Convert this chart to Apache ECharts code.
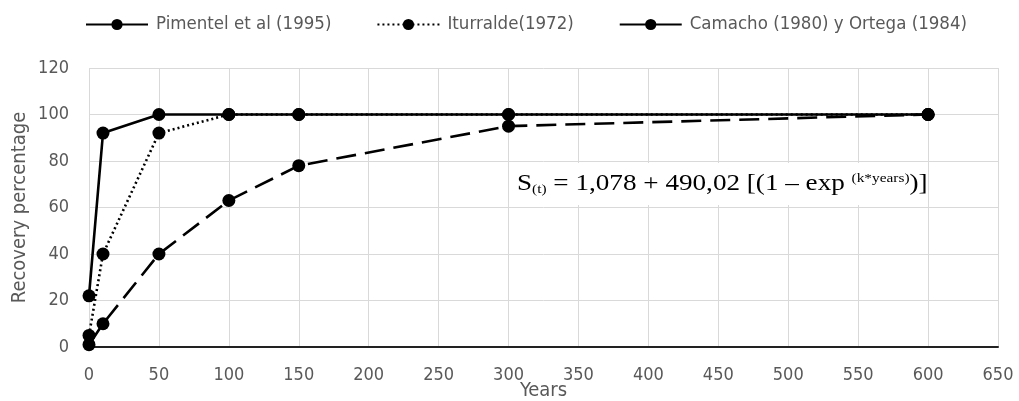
<!DOCTYPE html>
<html><head><meta charset="utf-8">
<script src="https://cdn.jsdelivr.net/npm/echarts@6/dist/echarts.min.js"></script>
<style>html,body{margin:0;padding:0;background:#fff}#c{width:1019px;height:401px}</style>
</head><body><div id="c"></div>
<script>
var seriesNames = ['Pimentel et al (1995)', 'Iturralde(1972)', 'Camacho (1980) y Ortega (1984)'];
var pimentelYears = [0, 10, 50, 100, 150, 300, 600];
var pimentelValues = [22, 92, 100, 100, 100, 100, 100];
var iturraldeYears = [0, 10, 50, 100, 150, 300, 600];
var iturraldeValues = [5, 40, 92, 100, 100, 100, 100];
var camachoYears = [0, 10, 50, 100, 150, 300, 600];
var camachoValues = [1, 10, 40, 63, 78, 95, 100];
var xTicks = [0, 650, 50];
var yTicks = [0, 120, 20];

function pairs(xs, ys) { return xs.map(function (x, i) { return [x, ys[i]]; }); }

var font = '"Liberation Sans Narrow", "DejaVu Sans Condensed", sans-serif';
var grey = '#595959';
var chart = echarts.init(document.getElementById('c'), null, { renderer: 'canvas' });
var mk = function (name, data, type) {
  return {
    name: name, type: 'line', data: data,
    symbol: 'circle', symbolSize: 13,
    itemStyle: { color: '#000' },
    lineStyle: { color: '#000', width: 2.6, type: type },
    emphasis: { disabled: true }, animation: false, z: 3
  };
};
chart.setOption({
  animation: false,
  grid: { left: 89, right: 21, top: 68, bottom: 54, outerBoundsMode: 'none', containLabel: false },
  legend: {
    top: 10, left: 80, itemWidth: 62, itemHeight: 14, itemGap: 45,
    textStyle: { fontFamily: font, fontSize: 18.5, color: grey, padding: [0, 0, 0, 3] },
    data: [
      { name: seriesNames[0] },
      { name: seriesNames[1] },
      { name: seriesNames[2], lineStyle: { type: 'solid' } }
    ]
  },
  xAxis: {
    type: 'value', min: xTicks[0], max: xTicks[1], interval: xTicks[2],
    name: 'Years', nameLocation: 'middle', nameGap: 34, nameMoveOverlap: false,
    nameTextStyle: { fontFamily: font, fontSize: 20, color: grey },
    axisLine: { show: true, lineStyle: { color: '#222', width: 2 } },
    axisTick: { show: false },
    axisLabel: { fontFamily: font, fontSize: 18, color: grey, margin: 19 },
    splitLine: { show: true, lineStyle: { color: '#d9d9d9', width: 1 } }
  },
  yAxis: {
    type: 'value', min: yTicks[0], max: yTicks[1], interval: yTicks[2],
    name: 'Recovery percentage', nameLocation: 'middle', nameGap: 59, nameMoveOverlap: false,
    nameTextStyle: { fontFamily: font, fontSize: 20, color: grey },
    axisLine: { show: false },
    axisTick: { show: false },
    axisLabel: { fontFamily: font, fontSize: 18, color: grey, margin: 20 },
    splitLine: { show: true, lineStyle: { color: '#d9d9d9', width: 1 } }
  },
  series: [
    mk(seriesNames[0], pairs(pimentelYears, pimentelValues), 'solid'),
    mk(seriesNames[1], pairs(iturraldeYears, iturraldeValues), [2, 3]),
    mk(seriesNames[2], pairs(camachoYears, camachoValues), [20, 9])
  ],
  graphic: [
    { type: 'rect', left: 511, top: 163, shape: { width: 415, height: 42 }, style: { fill: '#fff' }, z: 10 },
    {
      type: 'text', x: 517, y: 172, scaleX: 1.18, z: 11,
      style: {
        text: '{n|S}{sub|(t)}{n| = 1,078 + 490,02 [(1 \u2013 exp }{sup|(k*years)}{n|)]}',
        rich: {
          n: { fontFamily: '"Liberation Serif", serif', fontSize: 23, fill: '#000' },
          sub: { fontFamily: '"Liberation Serif", serif', fontSize: 13, fill: '#000', padding: [11, 0, 0, 0] },
          sup: { fontFamily: '"Liberation Serif", serif', fontSize: 13, fill: '#000', padding: [0, 0, 11, 0] }
        }
      }
    }
  ]
});
</script></body></html>
